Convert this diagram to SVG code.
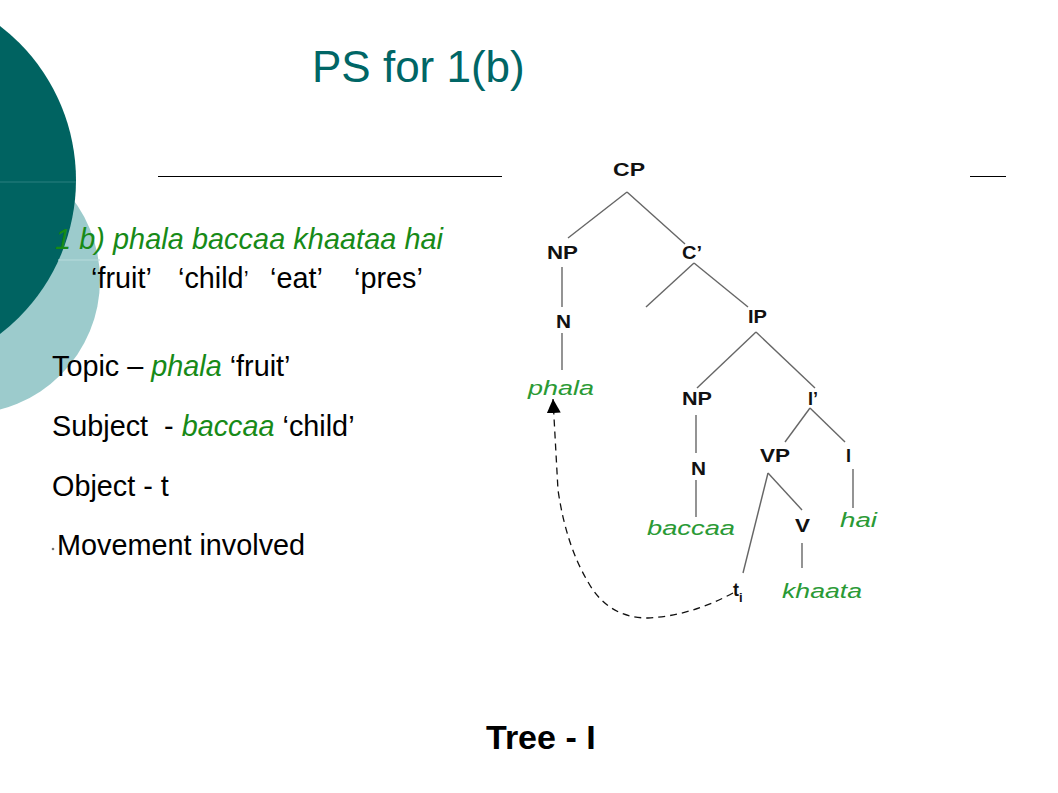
<svg xmlns="http://www.w3.org/2000/svg" width="1058" height="793" viewBox="0 0 1058 793">
<style>
.body{font-family:"Liberation Sans",Arial,sans-serif;font-size:28.8px;fill:#000}
.gr{fill:#178a17;font-style:italic}
.lbl{font-family:"Liberation Sans",Arial,sans-serif;font-size:18px;font-weight:bold;fill:#111}
.leaf{font-family:"Liberation Sans",Arial,sans-serif;font-size:20px;font-style:italic;fill:#2a9a35}
.edge{stroke:#666;stroke-width:1.4;fill:none}
</style>
<defs>
<marker id="arr" viewBox="0 0 10 10" refX="10" refY="5" markerWidth="14" markerHeight="14" markerUnits="userSpaceOnUse" orient="auto">
<path d="M0,0 L10,5 L0,10 z" fill="#000"/>
</marker>
</defs>
<rect width="1058" height="793" fill="#fff"/>
<g id="decor">
<circle cx="-34" cy="280" r="134" fill="#9ccbcc"/>
<circle cx="-118" cy="180" r="194" fill="#006361"/>
<line x1="0" y1="182" x2="76" y2="182" stroke="#2a8080" stroke-width="1"/>
<line x1="58" y1="260" x2="100" y2="260" stroke="#b8dcdc" stroke-width="1"/>
</g>
<text id="title" x="312" y="82" font-family="Liberation Sans,Arial,sans-serif" font-size="44" fill="#006666">PS for 1(b)</text>
<line x1="158" y1="176.5" x2="502" y2="176.5" stroke="#000" stroke-width="1.2"/>
<line x1="970" y1="176.5" x2="1006" y2="176.5" stroke="#000" stroke-width="1.2"/>
<g id="text">
<text class="body gr" x="55" y="249" textLength="388">1 b) phala baccaa khaataa hai</text>
<text class="body" font-size="25" x="91" y="288">‘fruit’</text>
<text class="body" font-size="25" x="178" y="288">‘child<tspan font-size="22" dy="-2">’</tspan></text>
<text class="body" font-size="25" x="270" y="288">‘eat’</text>
<text class="body" font-size="25" x="354" y="288">‘pres’</text>
<text class="body" x="52" y="376">Topic – <tspan class="gr">phala</tspan> ‘fruit’</text>
<text class="body" x="52" y="436" xml:space="preserve">Subject  - <tspan class="gr">baccaa</tspan> ‘child’</text>
<text class="body" x="52" y="496">Object - t</text>
<circle cx="53" cy="549" r="1.3" fill="#777"/>
<text class="body" x="57" y="555">Movement involved</text>
<text x="486" y="749" font-family="Liberation Sans,Arial,sans-serif" font-size="34" font-weight="bold" fill="#000">Tree - I</text>
</g>
<g id="connectors">
<line class="edge" x1="627" y1="192" x2="568" y2="238"/>
<line class="edge" x1="627" y1="192" x2="685" y2="244"/>
<line class="edge" x1="562" y1="267" x2="562" y2="307"/>
<line class="edge" x1="562" y1="333" x2="562" y2="370"/>
<line class="edge" x1="694" y1="263" x2="646" y2="307"/>
<line class="edge" x1="694" y1="263" x2="748" y2="307"/>
<line class="edge" x1="756" y1="332" x2="697" y2="388"/>
<line class="edge" x1="756" y1="332" x2="815" y2="388"/>
<line class="edge" x1="696" y1="415" x2="696" y2="453"/>
<line class="edge" x1="696" y1="480" x2="696" y2="517"/>
<line class="edge" x1="810" y1="408" x2="785" y2="442"/>
<line class="edge" x1="810" y1="408" x2="845" y2="442"/>
<line class="edge" x1="853" y1="469" x2="853" y2="508"/>
<line class="edge" x1="768" y1="473" x2="743" y2="573"/>
<line class="edge" x1="768" y1="473" x2="802" y2="510"/>
<line class="edge" x1="802" y1="543" x2="802" y2="568"/>
<path d="M733,593 Q690,616 648,618 Q608,618 588,582 Q566,545 558,490 L553,399" fill="none" stroke="#111" stroke-width="1.3" stroke-dasharray="7,5" marker-end="url(#arr)"/>
</g>
<g id="node-CP"><text class="lbl" x="613" y="176" textLength="32" lengthAdjust="spacingAndGlyphs">CP</text></g>
<g id="node-NP1"><text class="lbl" x="547" y="259" textLength="31" lengthAdjust="spacingAndGlyphs">NP</text></g>
<g id="node-C"><text class="lbl" x="682" y="259" textLength="20" lengthAdjust="spacingAndGlyphs">C’</text></g>
<g id="node-N1"><text class="lbl" x="556" y="328" textLength="15" lengthAdjust="spacingAndGlyphs">N</text></g>
<g id="node-phala"><text class="leaf" font-size="19" x="528" y="395" textLength="66" lengthAdjust="spacingAndGlyphs">phala</text></g>
<g id="node-IP"><text class="lbl" x="748" y="323" textLength="19" lengthAdjust="spacingAndGlyphs">IP</text></g>
<g id="node-NP2"><text class="lbl" x="682" y="405" textLength="30" lengthAdjust="spacingAndGlyphs">NP</text></g>
<g id="node-I1"><text class="lbl" x="808" y="405" textLength="10" lengthAdjust="spacingAndGlyphs">I’</text></g>
<g id="node-N2"><text class="lbl" x="691" y="475" textLength="15" lengthAdjust="spacingAndGlyphs">N</text></g>
<g id="node-baccaa"><text class="leaf" x="647" y="535" textLength="88" lengthAdjust="spacingAndGlyphs">baccaa</text></g>
<g id="node-VP"><text class="lbl" x="760" y="462" textLength="30" lengthAdjust="spacingAndGlyphs">VP</text></g>
<g id="node-I"><text class="lbl" x="846" y="462">I</text></g>
<g id="node-hai"><text class="leaf" font-size="21" x="840" y="527" textLength="37" lengthAdjust="spacingAndGlyphs">hai</text></g>
<g id="node-V"><text class="lbl" x="795" y="532" textLength="15" lengthAdjust="spacingAndGlyphs">V</text></g>
<g id="node-khaata"><text class="leaf" font-size="22" x="782" y="598" textLength="80" lengthAdjust="spacingAndGlyphs">khaata</text></g>
<g id="node-t"><text class="lbl" font-size="19" x="733" y="596">t<tspan font-size="13" dy="6">i</tspan></text></g>
</svg>
